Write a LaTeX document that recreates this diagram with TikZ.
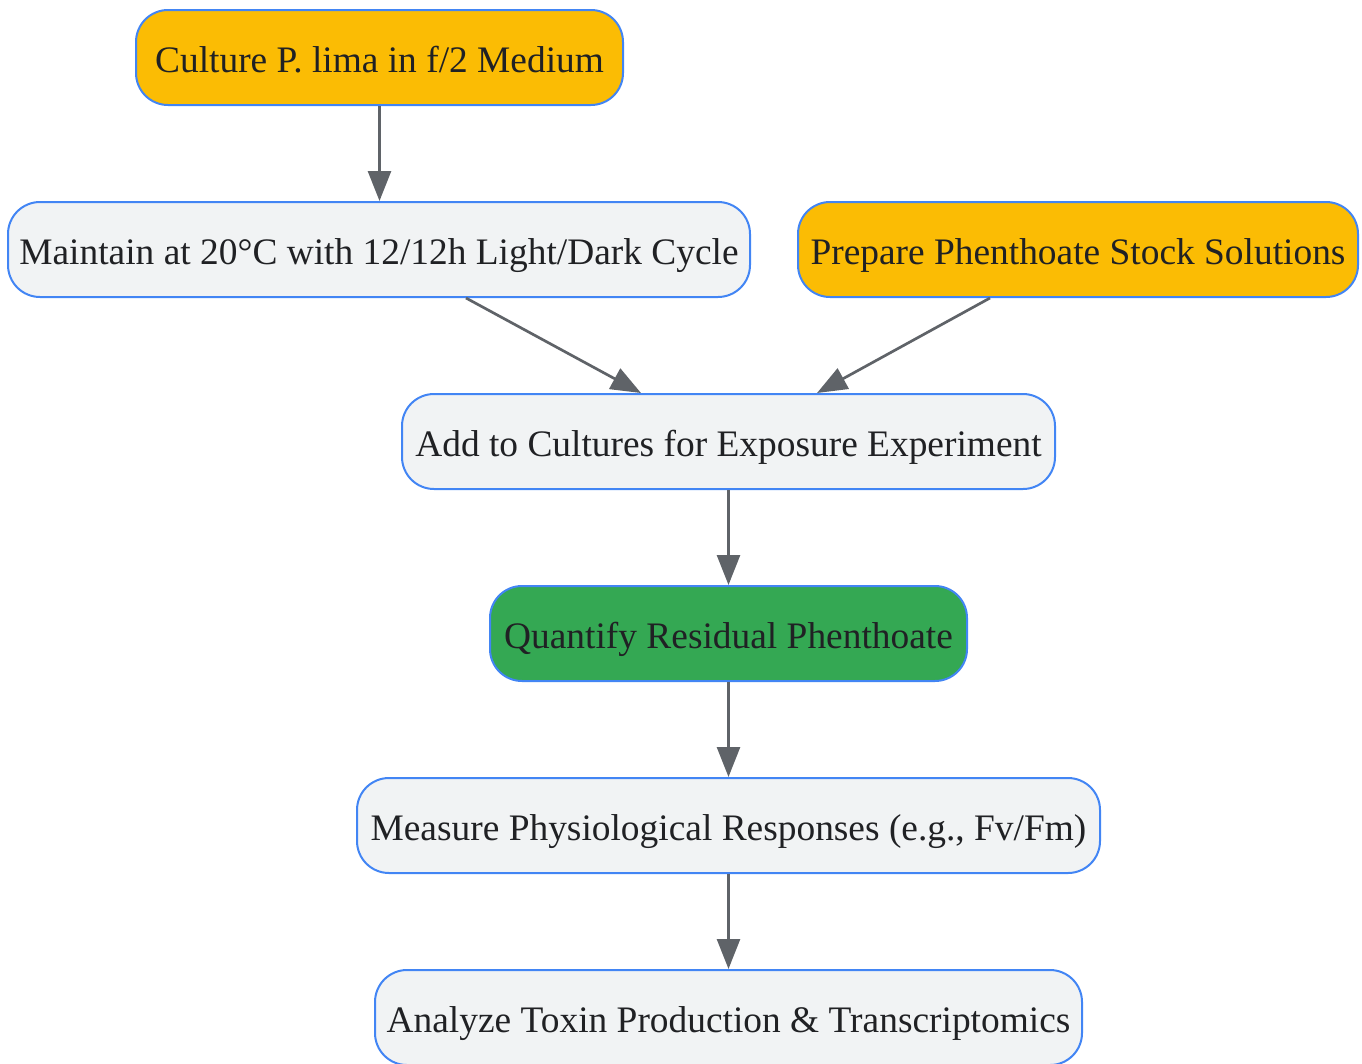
\documentclass[tikz,border=0pt]{standalone}
\usepackage{fontspec}
\setmainfont{Liberation Serif}
\usetikzlibrary{arrows.meta}
\definecolor{bordc}{HTML}{4285F4}
\definecolor{orangec}{HTML}{FBBC04}
\definecolor{greenc}{HTML}{34A853}
\definecolor{greyc}{HTML}{F1F3F4}
\definecolor{arrc}{HTML}{5F6368}
\definecolor{txtc}{HTML}{202124}
\tikzset{
  box/.style={draw=bordc, line width=2pt, rounded corners=32pt, minimum height=95pt,
    inner sep=0pt, text height=34pt, text depth=5pt, text=txtc,
    font=\fontsize{37.4}{40}\selectfont, fill=greyc},
  obox/.style={box, fill=orangec},
  gbox/.style={box, fill=greenc},
  conn/.style={draw=arrc, line width=2.7pt, -{Triangle[length=30pt,width=23pt]}}
}
\begin{document}
\begin{tikzpicture}[x=1pt,y=-1pt]
\useasboundingbox (0,0) rectangle (1362,1063);
\node[obox, minimum width=487pt] (culture) at (379.5,57.5) {Culture P. lima in f/2 Medium};
\node[box, minimum width=742pt] (maintain) at (379,249.5) {Maintain at 20°C with 12/12h Light/Dark Cycle};
\node[obox, minimum width=560pt] (prepare) at (1078,249.5) {Prepare Phenthoate Stock Solutions};
\node[box, minimum width=653pt] (add) at (728.5,441.5) {Add to Cultures for Exposure Experiment};
\node[gbox, minimum width=477pt] (quant) at (728.5,633.5) {Quantify Residual Phenthoate};
\node[box, minimum width=743pt] (measure) at (728.5,825.5) {Measure Physiological Responses (e.g., Fv/Fm)};
\node[box, minimum width=707pt] (analyze) at (728.5,1017.5) {Analyze Toxin Production \& Transcriptomics};
\draw[conn] (culture.south) -- (culture.south |- maintain.north);
\draw[conn] ([xshift=87pt]maintain.south) -- ([xshift=-87.5pt]add.north);
\draw[conn] ([xshift=-88pt]prepare.south) -- ([xshift=88.5pt]add.north);
\draw[conn] (add.south) -- (quant.north);
\draw[conn] (quant.south) -- (measure.north);
\draw[conn] (measure.south) -- (analyze.north);
\end{tikzpicture}
\end{document}
